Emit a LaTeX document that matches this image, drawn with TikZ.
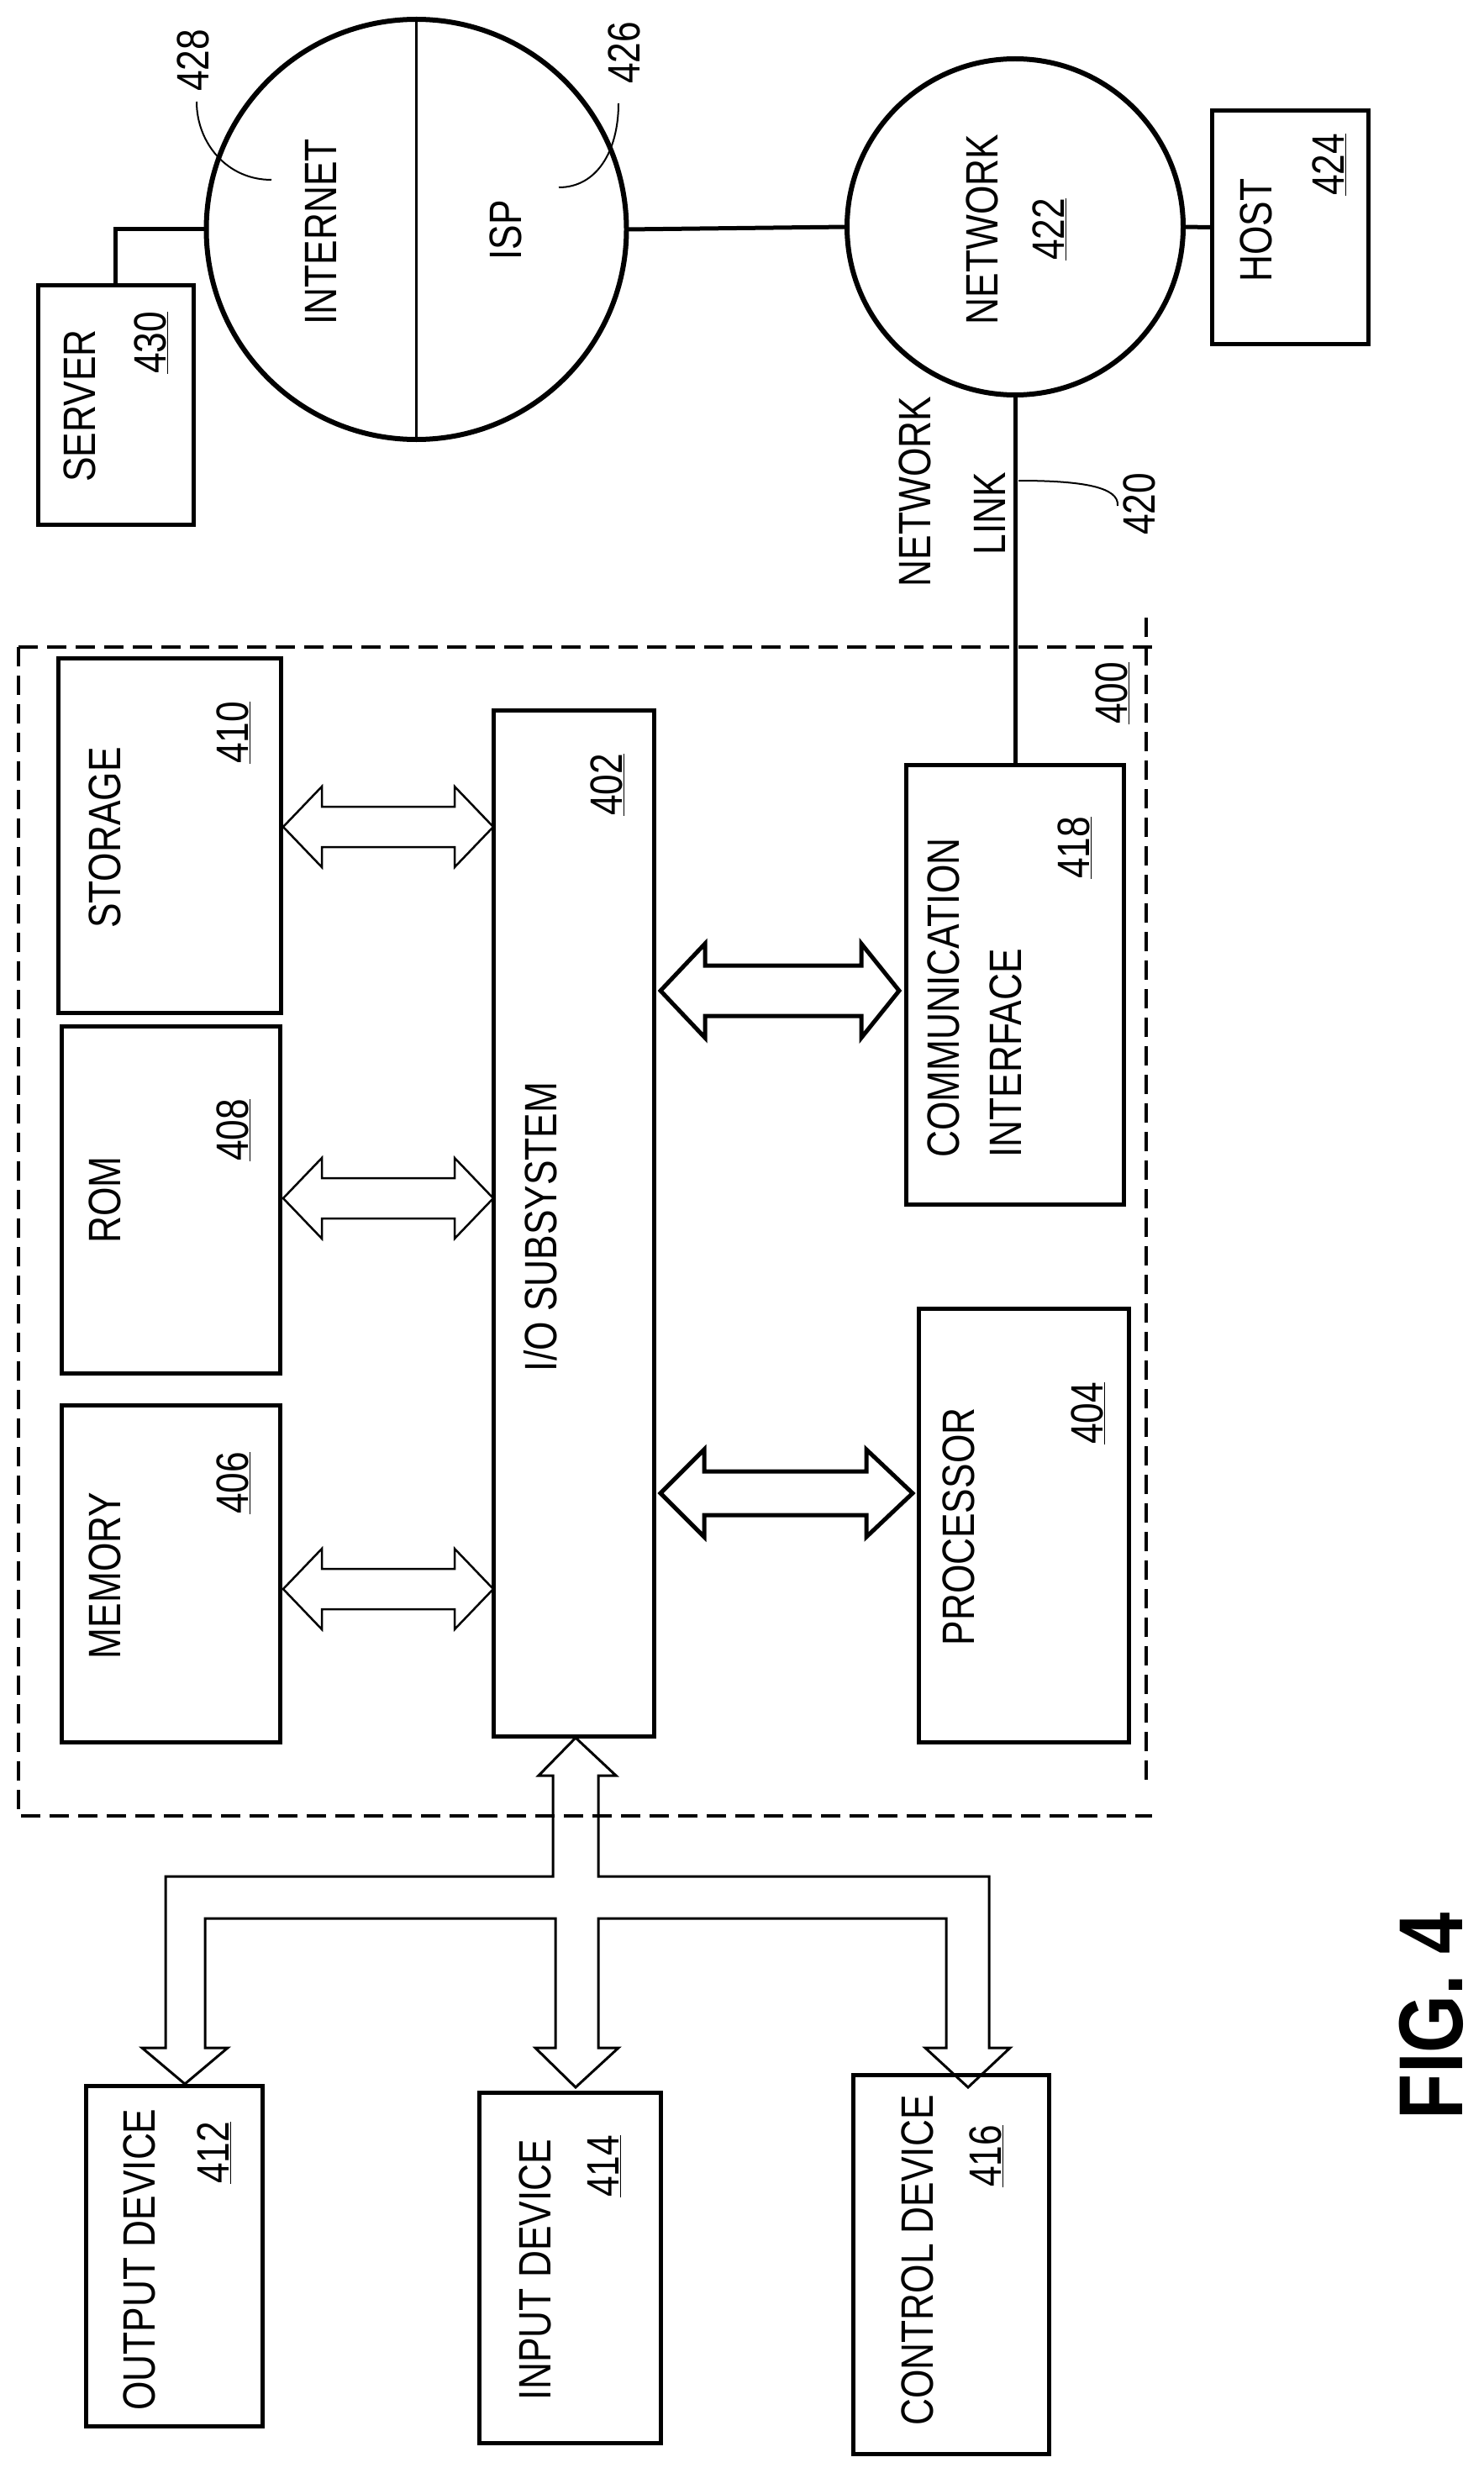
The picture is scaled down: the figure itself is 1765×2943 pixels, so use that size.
\documentclass[tikz,border=0pt]{standalone}
\usepackage{fontspec}
\setmainfont{Liberation Sans}[FakeStretch=0.82]
\begin{document}
\begin{tikzpicture}[x=1pt,y=-1pt,
  box/.style={draw,line width=5pt,inner sep=0pt,outer sep=0pt},
  circ/.style={draw,circle,line width=6pt,inner sep=0pt,outer sep=0pt},
  lbl/.style={rotate=90,inner sep=0pt,font=\fontsize{54}{74}\selectfont},
  conn/.style={line width=5pt},
  thin/.style={line width=2.5pt},
  dsh/.style={line width=4pt,dash pattern=on 23pt off 11pt},
  darr/.style={line width=2.5pt,line join=miter},
  darrb/.style={line width=5pt,line join=miter}]
\useasboundingbox (0,0) rectangle (1765,2943);
% boxes
\node[box,minimum width=185,minimum height=284] (server) at (137.5,482) {};
\node[box,minimum width=186,minimum height=277] (host) at (1535,270.5) {};
\node[box,minimum width=265,minimum height=422] (storage) at (201.5,994) {};
\node[box,minimum width=260,minimum height=413] (rom) at (203,1427.5) {};
\node[box,minimum width=260,minimum height=401] (memory) at (203,1872.5) {};
\node[box,minimum width=191,minimum height=1221] (io) at (682.5,1455.5) {};
\node[box,minimum width=259,minimum height=523] (comm) at (1207.5,1171.5) {};
\node[box,minimum width=250,minimum height=516] (proc) at (1218,1815) {};
\node[box,minimum width=210,minimum height=405] (output) at (207,2684.5) {};
\node[box,minimum width=216,minimum height=417] (input) at (678,2698.5) {};
\node[box,minimum width=233,minimum height=451] (control) at (1131.5,2694.5) {};
\node[circ,minimum size=500] (inet) at (495.5,273) {};
\node[circ,minimum size=400] (net) at (1208,270) {};
% circle divider and connectors
\draw[line width=3pt] (inet.north) -- (inet.south);
\draw[conn] (server.north) |- (inet.west);
\draw[conn] (inet.east) -- (net.west);
\draw[conn] (net.east) -- (host.west);
\draw[conn] (net.south) -- (net.south |- comm.north);
% leaders
\draw[line width=2pt] (234,121) .. controls (234,170) and (270,214) .. (323,214);
\draw[line width=2pt] (736,123) .. controls (736,180) and (710,223) .. (665,223);
\draw[line width=2pt] (1212,572) .. controls (1290,572) and (1332,580) .. (1330,602);
% dashed enclosure
\draw[dsh] (22,770) -- (1371,770);
\draw[dsh] (22,770) -- (22,2161) -- (1371,2161);
\draw[dsh] (1364,735) -- (1364,2128);
% double arrows (thin)
\foreach \yc in {984,1426,1891}{
  \draw[darr] (337,\yc) -- (383,\yc-48) -- (383,\yc-24) -- (541,\yc-24) -- (541,\yc-48)
    -- (587,\yc) -- (541,\yc+48) -- (541,\yc+24) -- (383,\yc+24) -- (383,\yc+48) -- cycle;}
% comm arrow
\draw[darrb] (786,1179) -- (839,1123) -- (839,1149) -- (1025,1149) -- (1025,1123)
  -- (1070,1179) -- (1025,1235) -- (1025,1209) -- (839,1209) -- (839,1235) -- cycle;
% processor arrow
\draw[darrb] (786,1777) -- (838,1725) -- (838,1751) -- (1031,1751) -- (1031,1725)
  -- (1086,1777) -- (1031,1829) -- (1031,1803) -- (838,1803) -- (838,1829) -- cycle;
% bus
\draw[line width=3pt,line join=miter] (658,2113) -- (641,2113) -- (685,2068) -- (733,2113) -- (712,2113)
  -- (712,2233) -- (1177,2233) -- (1177,2437) -- (1202,2437) -- (1152,2484) -- (1101,2437)
  -- (1126,2437) -- (1126,2283) -- (712,2283) -- (712,2437) -- (736,2437) -- (685,2484)
  -- (637,2437) -- (661,2437) -- (661,2283) -- (244,2283) -- (244,2437) -- (271,2437)
  -- (220,2480) -- (169,2437) -- (197,2437) -- (197,2233) -- (658,2233) -- cycle;
% labels
\node[lbl] (tserver) at (95,483) {SERVER};
\node[lbl] (t430) at (180,408) {\underline{430}};
\node[lbl] (tinet) at (382,276) {INTERNET};
\node[lbl] (tisp) at (602,274) {ISP};
\node[lbl] (t428) at (230,72) {428};
\node[lbl] (t426) at (743,63) {426};
\node[lbl] (tnet) at (1169,273) {NETWORK};
\node[lbl] (t422) at (1249,273) {\underline{422}};
\node[lbl] (thost) at (1495,274) {HOST};
\node[lbl] (t424) at (1582,196) {\underline{424}};
\node[lbl] (tnl1) at (1089,585) {NETWORK};
\node[lbl] (tnl2) at (1178,611) {LINK};
\node[lbl] (t420) at (1356,600) {420};
\node[lbl] (t400) at (1324,825) {\underline{400}};
\node[lbl] (tsto) at (125,997) {STORAGE};
\node[lbl] (t410) at (278,872) {\underline{410}};
\node[lbl] (trom) at (125,1428) {ROM};
\node[lbl] (t408) at (278,1345) {\underline{408}};
\node[lbl] (tmem) at (125,1875) {MEMORY};
\node[lbl] (t406) at (278,1765) {\underline{406}};
\node[lbl] (tio) at (643,1460) {I/O SUBSYSTEM};
\node[lbl] (t402) at (723,934) {\underline{402}};
\node[lbl,anchor=west,align=left] (tcomm) at (1160,1378) {COMMUNICATION\\INTERFACE};
\node[lbl] (t418) at (1279,1009) {\underline{418}};
\node[lbl] (tproc) at (1141,1817) {PROCESSOR};
\node[lbl] (t404) at (1295,1682) {\underline{404}};
\node[lbl] (tout) at (166,2689) {OUTPUT DEVICE};
\node[lbl] (t412) at (255,2562) {\underline{412}};
\node[lbl] (tin) at (637,2701) {INPUT DEVICE};
\node[lbl] (t414) at (719,2578) {\underline{414}};
\node[lbl] (tctl) at (1092,2690) {CONTROL DEVICE};
\node[lbl] (t416) at (1174,2566) {\underline{416}};
\node[rotate=90,inner sep=0pt,font=\fontsize{108}{120}\selectfont\bfseries] (fig) at (1703,2399) {FIG. 4};
\end{tikzpicture}
\end{document}
